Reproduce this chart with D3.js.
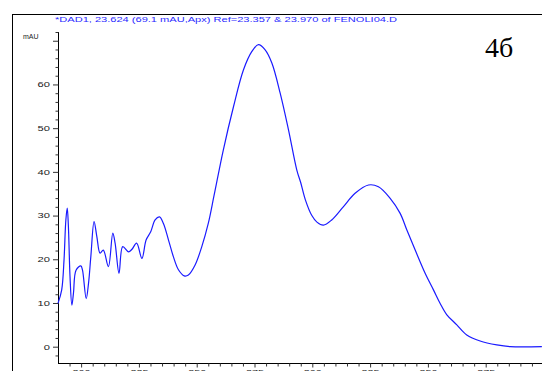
<!DOCTYPE html>
<html><head><meta charset="utf-8">
<script src="https://cdn.jsdelivr.net/npm/d3@7"></script>
<style>body{margin:0;background:#fff}svg{display:block}</style>
</head><body>
<svg id="c" width="542" height="371"></svg>
<script>
// Wavelength (nm) and absorbance (mAU)
const wavelengths = [190,191.6,192.6,193.4,194,194.5,195.2,196,196.7,197.8,199.9,200.6,202.2,203.2,204.2,205.6,206.8,208.2,209.6,211.8,213.7,214.7,216.4,218,220.5,222,224,226.3,228.1,230.1,232,233.9,235.6,237.8,239.9,242.1,244.6,246.4,249.3,252.2,255,257.5,261.5,265.9,270.2,273.8,276.7,279.6,282.5,286.1,289.7,293.3,295,297,299.8,302,304.8,308.4,313.4,318.5,324.3,328.6,333.6,338,340.9,344.5,348.8,352.4,355.3,358.2,362.5,366.8,372.6,379.8,385.6,399.3];
const absorbance = [9.9,13,19.8,29,31.7,27.5,16,9.5,12.3,17.5,18.5,17.5,11,14.5,20.6,28.6,25.2,21.4,22.1,18.3,26,23.7,16.8,22.9,21.7,22.3,23.7,20.2,24.4,26.3,29,29.7,28.2,24.4,20.6,17.6,16.2,16.4,18.7,22.9,28.2,34.6,45,54.9,63.3,67.5,69.1,67.9,64.9,58,49.6,40.4,37.5,33.6,30,28.5,27.8,29,32,35.1,37,36.6,34,30.5,26.7,22.1,16.8,13,9.9,7.3,5,2.7,1.3,0.4,0,0];
const xTickLabels = [200,225,250,275,300,325,350,375];
const yTickLabels = [0,10,20,30,40,50,60];
const titleText = "*DAD1, 23.624 (69.1 mAU,Apx) Ref=23.357 & 23.970 of FENOLI04.D";
const yUnit = "mAU";
const panelLabel = "4б";

const svg = d3.select("#c");
const x = d3.scaleLinear().domain([190, 400]).range([58, 543.5]);
const y = d3.scaleLinear().domain([-3.73, 72]).range([363, 32]);

// frame
svg.append("line").attr("x1",12).attr("x2",542).attr("y1",14.5).attr("y2",14.5).attr("stroke","#000").attr("stroke-width",1);
svg.append("line").attr("x1",12.5).attr("x2",12.5).attr("y1",14).attr("y2",371).attr("stroke","#000").attr("stroke-width",1);

// title
svg.append("text").attr("x",55).attr("y",22).attr("fill","#2a2aff")
  .attr("font-family","Liberation Sans, Arial, sans-serif").attr("font-size",7.6)
  .attr("textLength",342).attr("lengthAdjust","spacingAndGlyphs").text(titleText);

svg.append("text").attr("x",23).attr("y",38.5).attr("fill","#222")
  .attr("font-family","Liberation Sans, Arial, sans-serif").attr("font-size",7).text(yUnit);

svg.append("text").attr("x",485).attr("y",57).attr("fill","#000")
  .attr("font-family","Liberation Serif, DejaVu Serif, serif").attr("font-size",28).text(panelLabel);

// y axis
const yMinor = d3.range(-2, 73, 2).filter(v => v % 10 !== 0);
const yAxisMajor = d3.axisLeft(y).tickValues(yTickLabels.concat([70])).tickSize(5.5).tickPadding(3)
  .tickFormat(d => yTickLabels.includes(d) ? d : "");
const gy = svg.append("g").attr("transform","translate(58.5,0)");
gy.call(yAxisMajor);
gy.select(".domain").attr("d","M0,32V363").attr("stroke","#000");
gy.selectAll(".tick line").attr("stroke","#333");
gy.selectAll(".tick text").attr("font-family","Liberation Sans, Arial, sans-serif").attr("font-size",7.5).attr("fill","#222")
  .attr("textLength", function(){ return this.textContent.length*6.2; }).attr("lengthAdjust","spacingAndGlyphs");
const gyMinor = svg.append("g").attr("transform","translate(58.5,0)");
gyMinor.call(d3.axisLeft(y).tickValues(yMinor).tickSize(3).tickFormat(""));
gyMinor.select(".domain").remove();
gyMinor.selectAll(".tick line").attr("stroke","#333");

// x axis
const xMinor = d3.range(195, 400, 5).filter(v => v % 25 !== 0);
const gx = svg.append("g").attr("transform","translate(0,363.5)");
gx.call(d3.axisBottom(x).tickValues(xTickLabels).tickSize(4).tickPadding(2));
gx.select(".domain").attr("d","M58,0H542").attr("stroke","#000");
gx.selectAll(".tick line").attr("stroke","#333");
gx.selectAll(".tick text").attr("font-family","Liberation Sans, Arial, sans-serif").attr("font-size",7.5).attr("fill","#222")
  .attr("textLength",18).attr("lengthAdjust","spacingAndGlyphs");
const gxMinor = svg.append("g").attr("transform","translate(0,363.5)");
gxMinor.call(d3.axisBottom(x).tickValues(xMinor).tickSize(3).tickFormat(""));
gxMinor.select(".domain").remove();
gxMinor.selectAll(".tick line").attr("stroke","#333");

// spectrum line
const pts = wavelengths.map((w,i) => [w, absorbance[i]]);
const line = d3.line().x(d => x(d[0])).y(d => y(d[1])).curve(d3.curveCatmullRom.alpha(0.5));
svg.append("path").datum(pts).attr("d", line).attr("fill","none").attr("stroke","#1a1aff").attr("stroke-width",1.2);
</script>
</body></html>
